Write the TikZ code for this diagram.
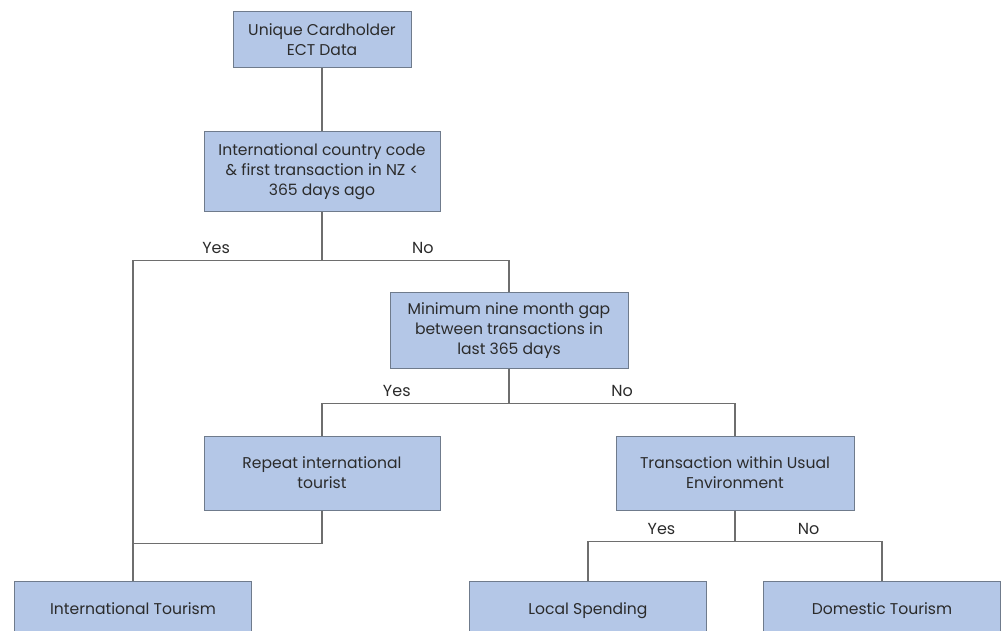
\documentclass[tikz,border=0pt]{standalone}
\usepackage{fontspec}
\setmainfont{Poppins}
\usepackage{xcolor}
\usepackage{tikz}
\usetikzlibrary{positioning}

\definecolor{boxfill}{HTML}{B4C7E7}
\definecolor{boxline}{HTML}{6F7B8C}
\definecolor{wire}{HTML}{6E6E6E}
\definecolor{ink}{HTML}{2B2B2B}

\begin{document}
\begin{tikzpicture}[
    thick, on grid,
    box/.style={draw=boxline, fill=boxfill, text=ink, line width=1pt, align=center,
        font=\fontsize{15.6}{20}\selectfont, inner sep=2pt},
    leaf/.style={box, minimum width=237pt, minimum height=54pt, text height=15pt, text depth=2pt},
    wire/.style={draw=wire, line width=1.1pt},
    answer/.style={text=ink, font=\fontsize{16}{18}\selectfont, above, inner sep=6.5pt}
]
    \useasboundingbox (0,0) rectangle (1005pt,-631pt);

    \node[box, minimum width=178pt, minimum height=56pt] (data) at (322pt,-40pt) {Unique Cardholder\\ECT Data};
    \node[box, minimum width=236pt, minimum height=80pt] (intl) [below=132pt of data]
        {International country code\\\& first transaction in NZ <\\365 days ago};
    \node[box, minimum width=238pt, minimum height=75pt] (gap) [below right=158.5pt and 187pt of intl]
        {Minimum nine month gap\\between transactions in\\last 365 days};
    \node[box, minimum width=236pt, minimum height=74pt] (repeat) [below left=142.5pt and 187pt of gap]
        {Repeat international\\tourist};
    \node[box, minimum width=238pt, minimum height=74pt] (usual) [below right=142.5pt and 226pt of gap]
        {Transaction within Usual\\Environment};
    \node[leaf] (intour) [below left=135pt and 189pt of repeat] {International Tourism};
    \node[leaf] (local) [below left=135pt and 147pt of usual] {Local Spending};
    \node[leaf] (domestic) [below right=135pt and 147pt of usual] {Domestic Tourism};

    % tree connectors
    \path[wire] (data) -- (intl);
    \path[wire] (intl.south) -- ++(0,-48pt) -| node[answer, pos=0.28] {Yes} (intour.north);
    \path[wire] (intl.south) -- ++(0,-48pt) -| node[answer, pos=0.27] {No} (gap.north);
    \path[wire] (repeat.south) -- ++(0,-33pt) -| (intour.north);
    \path[wire] (gap.south) -- ++(0,-35pt) -| node[answer, pos=0.3] {Yes} (repeat.north);
    \path[wire] (gap.south) -- ++(0,-35pt) -| node[answer, pos=0.25] {No} (usual.north);
    \path[wire] (usual.south) -- ++(0,-31pt) -| node[answer, pos=0.25] {Yes} (local.north);
    \path[wire] (usual.south) -- ++(0,-31pt) -| node[answer, pos=0.25] {No} (domestic.north);
\end{tikzpicture}
\end{document}
